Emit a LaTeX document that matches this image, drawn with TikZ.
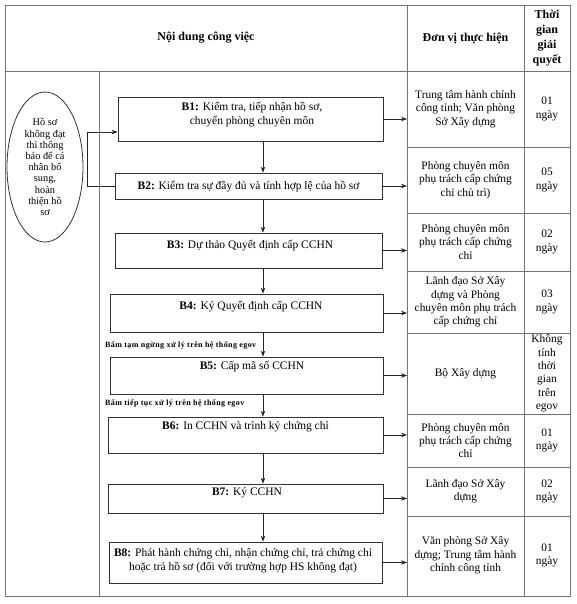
\documentclass[tikz,border=0pt]{standalone}
\usepackage{fontspec}
\setmainfont{Liberation Serif}
\usetikzlibrary{arrows.meta,calc,shapes.geometric}
\tikzset{
 gridline/.style={draw=black!55, line width=0.8pt},
 box/.style={draw=black!80, line width=0.8pt, rectangle, inner sep=0pt},
 arr/.style={draw=black!85, line width=0.7pt, -{Stealth[length=6pt,width=4.5pt]}},
 btext/.style={font=\fontsize{11.5}{14}\selectfont, align=center, inner sep=0pt},
 cell/.style={font=\fontsize{11.4}{13.4}\selectfont, align=center, inner sep=0pt},
 head/.style={font=\bfseries\fontsize{12}{15}\selectfont, align=center, inner sep=0pt},
 note/.style={font=\bfseries\fontsize{8}{9}\selectfont\addfontfeatures{LetterSpace=5}, anchor=west, inner sep=0pt},
 oval/.style={ellipse, draw=black!80, line width=0.8pt, minimum width=76pt, minimum height=150pt, inner sep=0pt, font=\fontsize{10.3}{11.2}\selectfont, align=center}
}
\begin{document}
\begin{tikzpicture}[x=1pt,y=-1pt]
\fill[white] (0,0) rectangle (576,604);
\useasboundingbox (0,0) rectangle (576,604);
% table
\draw[gridline] (5,5) rectangle (570,596);
\draw[gridline] (5,71) -- (570,71);
\draw[gridline] (99,71) -- (99,596);
\draw[gridline] (407,5) -- (407,596);
\draw[gridline] (524,5) -- (524,596);
\foreach \yy in {147,213,271,333,414,467,516}
  \draw[gridline] (407,\yy) -- (570,\yy);
% header
\node[head] (h1) at (206,38) {Nội dung công việc};
\node[head] (h2) at (465.5,38) {Đơn vị thực hiện};
\node[head] (h3) at (547,38) {Thời\\gian\\giải\\quyết};
% boxes
\node[box, minimum width=265pt, minimum height=44pt] (b1) at (250.5,119) {};
\node[box, minimum width=267pt, minimum height=26pt] (b2) at (248.5,186) {};
\node[box, minimum width=267pt, minimum height=35pt] (b3) at (248.5,250.5) {};
\node[box, minimum width=273pt, minimum height=38pt] (b4) at (246.5,313) {};
\node[box, minimum width=273pt, minimum height=37pt] (b5) at (246.5,375.5) {};
\node[box, minimum width=275pt, minimum height=36pt] (b6) at (245.5,435) {};
\node[box, minimum width=275pt, minimum height=29pt] (b7) at (245.5,498.5) {};
\node[box, minimum width=273pt, minimum height=41pt] (b8) at (245.5,562.5) {};
% box texts
\node[btext] (t1) at (252,115) {\textbf{B1:} Kiểm tra, tiếp nhận hồ sơ,\\chuyển phòng chuyên môn};
\node[btext] (t2) at (248.5,187) {\textbf{B2:} Kiểm tra sự đầy đủ và tính hợp lệ của hồ sơ};
\node[btext] (t3) at (250,246) {\textbf{B3:} Dự thảo Quyết định cấp CCHN};
\node[btext] (t4) at (251,307) {\textbf{B4:} Ký Quyết định cấp CCHN};
\node[btext] (t5) at (252,367) {\textbf{B5:} Cấp mã số CCHN};
\node[btext] (t6) at (245.5,427) {\textbf{B6:} In CCHN và trình ký chứng chỉ};
\node[btext] (t7) at (247,493) {\textbf{B7:} Ký CCHN};
\node[btext] (t8) at (243,561) {\textbf{B8:} Phát hành chứng chỉ, nhận chứng chỉ, trả chứng chỉ\\hoặc trả hồ sơ (đối với trường hợp HS không đạt)};
% notes
\node[note] (n1) at (105,345) {Bấm tạm ngừng xử lý trên hệ thống egov};
\node[note] (n2) at (105,403) {Bấm tiếp tục xử lý trên hệ thống egov};
% ellipse
\node[oval] (ov) at (45,167) {Hồ sơ\\không đạt\\thì thông\\báo để cá\\nhân bổ\\sung,\\hoàn\\thiện hồ\\sơ};
% vertical arrows
\coordinate (ax) at (263,0);
\draw[arr] (b1.south -| ax) -- (b2.north -| ax);
\draw[arr] (b2.south -| ax) -- (b3.north -| ax);
\draw[arr] (b3.south -| ax) -- (b4.north -| ax);
\draw[arr] (b4.south -| ax) -- (b5.north -| ax);
\draw[arr] (b5.south -| ax) -- (b6.north -| ax);
\draw[arr] (b6.south -| ax) -- (b7.north -| ax);
\draw[arr] (b7.south -| ax) -- (b8.north -| ax);
% horizontal arrows to unit column
\coordinate (col) at (407,0);
\foreach \b in {b1,b2,b3,b4,b5,b6,b7,b8}
  \draw[arr] (\b.east) -- (\b.east -| col);
% feedback loop
\coordinate (fbx) at (87,0);
\coordinate (b1in) at (b1.west |- 0,132);
\draw[arr] (b2.west) -- (b2.west -| fbx) -- (fbx |- b1in) -- (b1in);
% unit column
\node[cell] (u1) at (465.5,109) {Trung tâm hành chính\\công tỉnh; Văn phòng\\Sở Xây dựng};
\node[cell] (u2) at (465.5,180) {Phòng chuyên môn\\phụ trách cấp chứng\\chỉ chủ trì)};
\node[cell] (u3) at (465.5,242) {Phòng chuyên môn\\phụ trách cấp chứng\\chỉ};
\node[cell] (u4) at (465.5,302) {Lãnh đạo Sở Xây\\dựng và Phòng\\chuyên môn phụ trách\\cấp chứng chỉ};
\node[cell] (u5) at (465.5,373.5) {Bộ Xây dựng};
\node[cell] (u6) at (465.5,440.5) {Phòng chuyên môn\\phụ trách cấp chứng\\chỉ};
\node[cell] (u7) at (465.5,491.5) {Lãnh đạo Sở Xây\\dựng};
\node[cell] (u8) at (465.5,555.5) {Văn phòng Sở Xây\\dựng; Trung tâm hành\\chính công tỉnh};
% time column
\node[cell] (d1) at (547,109) {01\\ngày};
\node[cell] (d2) at (547,180) {05\\ngày};
\node[cell] (d3) at (547,242) {02\\ngày};
\node[cell] (d4) at (547,302) {03\\ngày};
\node[cell] (d5) at (547,373.5) {Không\\tính\\thời\\gian\\trên\\egov};
\node[cell] (d6) at (547,440.5) {01\\ngày};
\node[cell] (d7) at (547,491.5) {02\\ngày};
\node[cell] (d8) at (547,555.5) {01\\ngày};
\end{tikzpicture}
\end{document}
